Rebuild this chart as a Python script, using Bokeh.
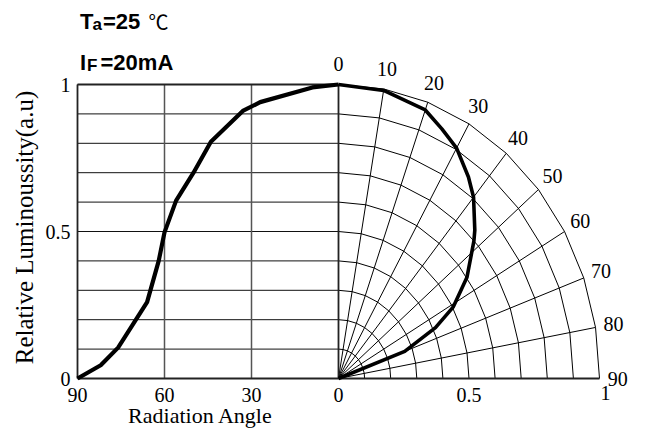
import math
from bokeh.plotting import figure
from bokeh.models import Range1d
from bokeh.core.properties import value
from bokeh.embed import file_html
from bokeh.resources import INLINE

# ---------------- data ----------------
# left panel: relative luminosity vs radiation angle (cartesian)
left_angles = [90, 82, 76, 66, 62, 60, 56, 50, 44, 33, 27, 9, 0]
left_values = [0.0, 0.045, 0.105, 0.26, 0.40, 0.497, 0.605, 0.70, 0.805, 0.91, 0.94, 0.99, 1.0]

# right panel: same characteristic on a polar grid
polar_angles = [0, 10, 20, 25, 30, 36, 40, 46, 48, 55, 61, 65, 70, 90]
polar_values = [1.0, 0.995, 0.972, 0.937, 0.905, 0.847, 0.805, 0.726, 0.698, 0.601, 0.503, 0.41, 0.27, 0.0]

left_angle_ticks = [90, 60, 30, 0]
left_angle_labels = ["90", "60", "30", "0"]
y_ticks = [0, 0.5, 1]
y_tick_labels = ["0", "0.5", "1"]
radius_ticks = [0.5, 1.0]
radius_tick_labels = ["0.5", "1"]
polar_angle_ticks = [0, 10, 20, 30, 40, 50, 60, 70, 80, 90]
polar_angle_labels = ["0", "10", "20", "30", "40", "50", "60", "70", "80", "90"]
grid_levels = [0.1, 0.2, 0.3, 0.4, 0.5, 0.6, 0.7, 0.8, 0.9, 1.0]

# ---------------- layout helpers (page px -> data) ----------------
OX, OY, SX, SY = 338.0, 378.0, 261.0, 294.0
def dx(px):
    return (px - OX) / SX
def dy(py):
    return (OY - py) / SY
def ang_x(a):          # left panel: angle -> x
    return -a / 90.0
def pol(a, r):         # polar -> (x, y)
    t = math.radians(a)
    return r * math.sin(t), r * math.cos(t)

W, H = 645, 430
p = figure(width=W, height=H, output_backend="svg", toolbar_location=None,
           x_axis_type=None, y_axis_type=None, min_border=0,
           x_range=Range1d(dx(0), dx(W)), y_range=Range1d(dy(H), dy(0)))
p.grid.visible = False
p.outline_line_color = None
p.background_fill_color = "white"
p.border_fill_color = "white"

# ---------------- left panel grid ----------------
hx = [[ang_x(90), ang_x(0)] for _ in grid_levels]
hy = [[v, v] for v in grid_levels]
p.multi_line(hx, hy, line_color="#111111", line_width=1)
vx = [[ang_x(a), ang_x(a)] for a in left_angle_ticks[1:-1]]
vy = [[0, 1] for _ in left_angle_ticks[1:-1]]
p.multi_line(vx, vy, line_color="#555555", line_width=1.5)

# ---------------- polar grid ----------------
arc_xs, arc_ys = [], []
for r in grid_levels:
    pts = [pol(a, r) for a in polar_angle_ticks]
    arc_xs.append([q[0] for q in pts])
    arc_ys.append([q[1] for q in pts])
p.multi_line(arc_xs, arc_ys, line_color="black", line_width=1)
rad_xs = [[0, pol(a, 1)[0]] for a in polar_angle_ticks[1:-1]]
rad_ys = [[0, pol(a, 1)[1]] for a in polar_angle_ticks[1:-1]]
p.multi_line(rad_xs, rad_ys, line_color="black", line_width=1)

# frame lines: left edge, top, bottom axis, 0-degree axis
p.multi_line([[ang_x(90), ang_x(90)], [ang_x(90), ang_x(0)], [ang_x(90), pol(90, 1)[0]], [0, 0]],
             [[0, 1], [1, 1], [0, 0], [0, 1]],
             line_color="#222222", line_width=1.8)

# ---------------- curves ----------------
p.line([ang_x(a) for a in left_angles], left_values,
       line_color="black", line_width=4.2, line_join="round")
pxs = [pol(a, r)[0] for a, r in zip(polar_angles, polar_values)]
pys = [pol(a, r)[1] for a, r in zip(polar_angles, polar_values)]
p.line(pxs, pys, line_color="black", line_width=3.6, line_join="round")

serif = value("Liberation Serif")
MID = "middle"
# y tick labels
p.text(x=[dx(70)] * len(y_ticks), y=y_ticks, text=y_tick_labels, text_font=serif,
       text_font_size="20px", text_align="right", text_baseline=MID, text_color="black")
# bottom tick labels
p.text(x=[ang_x(a) for a in left_angle_ticks], y=[dy(394.5)] * len(left_angle_ticks),
       text=left_angle_labels, text_font=serif, text_font_size="20px",
       text_align="center", text_baseline=MID, text_color="black")
p.text(x=radius_ticks, y=[dy(394.5), dy(392.5)], text=radius_tick_labels, text_font=serif,
       text_font_size="20px", text_align="center", text_baseline=MID,
       x_offset=[0, 6], text_color="black")
# polar angle labels
lab = [pol(a, 1.07) for a in polar_angle_ticks]
p.text(x=[q[0] for q in lab], y=[q[1] for q in lab], text=polar_angle_labels, text_font=serif,
       text_font_size="20px", text_align="center", text_baseline=MID, text_color="black")
# axis titles
p.text(x=[dx(200)], y=[dy(415)], text=["Radiation Angle"], text_font=serif,
       text_font_size="22px", text_align="center", text_baseline=MID, text_color="black")
p.text(x=[dx(24)], y=[dy(227)], text=["Relative Luminoussity(a.u)"], text_font=serif,
       text_font_size="25px", text_align="center", text_baseline=MID,
       angle=math.pi / 2, text_color="black")

# ---------------- header ----------------
sans = value("Liberation Sans")
def htxt(x, y, s, size, font=sans, style="bold"):
    p.text(x=[dx(x)], y=[dy(y)], text=[s], text_font=font, text_font_size=size,
           text_font_style=style, text_align="left", text_baseline=MID,
           text_color="black")
htxt(79.5, 20.6, "T", "22px")
htxt(92, 23.6, "a", "17px")
htxt(102.5, 20.6, "=25", "22px")
htxt(148, 20.5, "℃", "20px", font=value("Noto Sans CJK SC"), style="normal")
htxt(79.5, 61.9, "I", "22px")
htxt(86.5, 64.6, "F", "17px")
htxt(100, 61.9, "=20mA", "22px")

open("out.html", "w").write(file_html(p, INLINE))
